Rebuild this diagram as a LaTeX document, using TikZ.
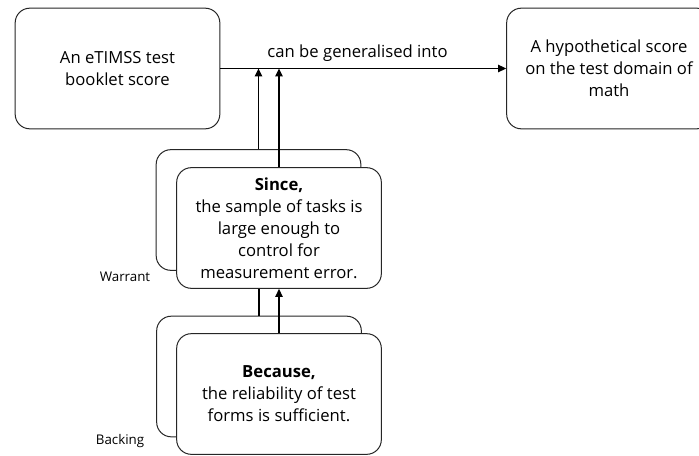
\documentclass[tikz,border=0pt]{standalone}
\usepackage{fontspec}
\setmainfont{Open Sans}
\usetikzlibrary{arrows.meta}
\begin{document}
\begin{tikzpicture} [
   x=0.75pt, y=-0.75pt, >={Triangle[length=6pt,width=5.5pt]}, line width=1.1pt,
   b/.style={draw=black!85, line width=0.75pt, rounded corners=11pt, fill=white,
      align=center, minimum width=153.5pt, minimum height=90.5pt, inner sep=2pt,
      font=\fontsize{12.5}{16.5}\selectfont},
   tag/.style={font=\fontsize{10}{12}\selectfont}
]
   \useasboundingbox (0,0) rectangle (699,456);
   \clip (0,0) rectangle (699,456);
   \node (score) [b] at (117.5,68.5) {An eTIMSS test\\booklet score};
   \node (domain) [b] at (609,68.5) {A hypothetical score\\on the test domain of\\math};
   \node (warrantback) [b] at (258.5,210) {};
   \node (warrant) [b] at (279,228) {{\bfseries Since,}\\the sample of tasks is\\large enough to\\control for\\measurement error.};
   \node (backingback) [b] at (259,376.5) {};
   \node (backing) [b] at (279,394) {{\bfseries Because,}\\the reliability of test\\forms is sufficient.};
   \node (wtag) [tag] at (125,277) {Warrant};
   \node (btag) [tag] at (120,441) {Backing};
   \draw [->] (score) -- node [above=1pt, pos=0.48] {\fontsize{12.5}{15}\selectfont can be generalised into} (domain);
   \draw [->] (warrantback.north) -- (warrantback.north |- score.east);
   \draw [->] (warrant.north) -- (warrant.north |- score.east);
   \draw (backingback.north) -- (backingback.north |- warrant.south);
   \draw [->] (backing.north) -- (warrant.south);
\end{tikzpicture}
\end{document}
